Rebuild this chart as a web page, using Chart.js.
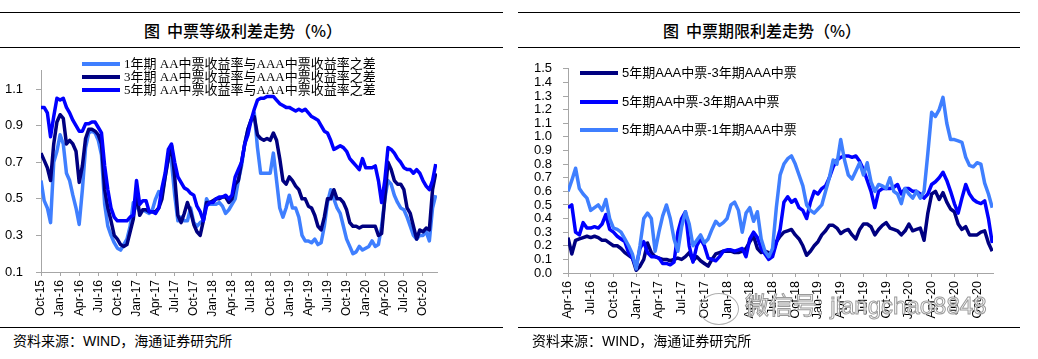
<!DOCTYPE html>
<html><head><meta charset="utf-8">
<script src="https://cdn.jsdelivr.net/npm/chart.js@4.4.1/dist/chart.umd.min.js"></script>
<style>
html,body{margin:0;padding:0;background:#fff;}
#page{position:relative;width:1038px;height:359px;overflow:hidden;background:#fff;font-family:"Liberation Sans",Arial,"Noto Sans CJK SC",sans-serif;}
.rule{position:absolute;height:0;border-top:1.5px solid #000;}
.title{position:absolute;top:19px;height:22px;line-height:22px;text-align:center;font-family:"Noto Sans CJK SC",sans-serif;font-size:16px;font-weight:500;color:#000;white-space:pre;}
canvas{position:absolute;}
.leg{position:absolute;height:14px;line-height:14px;font-size:13px;color:#000;white-space:pre;display:flex;align-items:center;}
.leg i{display:inline-block;width:38px;height:4px;margin-right:4px;}
.legL{font-family:"Liberation Serif","Noto Sans CJK SC",serif;}
.src{position:absolute;top:333px;font-size:14px;line-height:16px;color:#000;font-family:"Liberation Sans","Noto Sans CJK SC",sans-serif;white-space:pre;}
.wm{position:absolute;left:745px;top:292px;font-size:24px;line-height:28px;color:rgba(255,255,255,0.85);-webkit-text-stroke:1px #9a9a9a;font-family:"Liberation Sans","Noto Sans CJK SC",sans-serif;white-space:pre;}
.wmc{position:absolute;left:699px;top:293px;width:38px;height:30px;border:1px solid #b0b0b0;border-radius:50%;}
</style></head>
<body><div id="page">
<div class="rule" style="left:0;width:503px;top:12px"></div>
<div class="rule" style="left:0;width:503px;top:47px"></div>
<div class="title" style="left:0;width:486px">图  中票等级利差走势（%）</div>
<div class="rule" style="left:518px;width:502px;top:12px"></div>
<div class="rule" style="left:518px;width:502px;top:47px"></div>
<div class="title" style="left:518px;width:488px">图  中票期限利差走势（%）</div>

<canvas id="c1" width="505" height="275" style="left:0;top:50px;width:505px;height:275px"></canvas>
<canvas id="c2" width="500" height="275" style="left:520px;top:50px;width:500px;height:275px"></canvas>

<div class="leg legL" style="left:82px;top:57px"><i style="background:#3F7FFF"></i>1年期 AA中票收益率与AAA中票收益率之差</div>
<div class="leg legL" style="left:82px;top:70px"><i style="background:#000080"></i>3年期 AA中票收益率与AAA中票收益率之差</div>
<div class="leg legL" style="left:82px;top:83px"><i style="background:#0000FF"></i>5年期 AA中票收益率与AAA中票收益率之差</div>

<div class="leg" style="left:580px;top:66px"><i style="background:#000080"></i>5年期AAA中票-3年期AAA中票</div>
<div class="leg" style="left:580px;top:95px"><i style="background:#0000FF"></i>5年期AA中票-3年期AA中票</div>
<div class="leg" style="left:580px;top:123px"><i style="background:#3F7FFF"></i>5年期AAA中票-1年期AAA中票</div>

<div class="rule" style="left:0;width:503px;top:327px;border-top-width:1px"></div>
<div class="rule" style="left:518px;width:502px;top:327px;border-top-width:1px"></div>
<div class="src" style="left:13px">资料来源：WIND，海通证券研究所</div>
<div class="src" style="left:532px">资料来源：WIND，海通证券研究所</div>
<div class="wmc"></div>
<div class="wm">微信号: jiangchao8848</div>
</div>
<script>
// ---- Left chart: grade spreads (x = months since Oct-15, half-month grid) ----
const leftTickLabels = ['Oct-15','Jan-16','Apr-16','Jul-16','Oct-16','Jan-17','Apr-17','Jul-17','Oct-17','Jan-18','Apr-18','Jul-18','Oct-18','Jan-19','Apr-19','Jul-19','Oct-19','Jan-20','Apr-20','Jul-20','Oct-20'];
const leftYTicks = [0.1,0.3,0.5,0.7,0.9,1.1];
const spread1y = [
0.60,0.49,0.45,0.37,0.70,0.76,0.85,0.80,0.64,0.60,
0.52,0.45,0.36,0.55,0.78,0.86,0.87,0.86,0.82,0.74,
0.47,0.35,0.30,0.26,0.23,0.22,0.25,0.28,0.35,0.48,
0.46,0.43,0.44,0.43,0.42,0.44,0.50,0.54,0.52,0.62,
0.73,0.70,0.52,0.38,0.40,0.38,0.38,0.45,0.37,0.35,
0.37,0.38,0.50,0.47,0.47,0.47,0.48,0.46,0.42,0.44,
0.47,0.50,0.60,0.68,0.80,0.88,0.93,0.97,0.78,0.64,
0.64,0.64,0.64,0.75,0.60,0.45,0.40,0.45,0.52,0.45,
0.45,0.40,0.30,0.27,0.27,0.26,0.28,0.25,0.26,0.35,
0.48,0.55,0.50,0.45,0.42,0.35,0.28,0.24,0.20,0.21,
0.24,0.22,0.23,0.24,0.27,0.24,0.25,0.35,0.50,0.60,
0.58,0.52,0.48,0.45,0.44,0.40,0.35,0.30,0.28,0.30,
0.30,0.32,0.27,0.45,0.52];
const spread3y = [
0.75,0.71,0.67,0.60,0.80,0.92,0.96,0.94,0.80,0.82,
0.80,0.76,0.59,0.68,0.83,0.88,0.88,0.87,0.85,0.80,
0.55,0.45,0.38,0.30,0.28,0.25,0.24,0.25,0.32,0.39,
0.54,0.41,0.44,0.44,0.43,0.43,0.43,0.45,0.50,0.62,
0.72,0.79,0.62,0.41,0.37,0.42,0.48,0.43,0.36,0.32,
0.30,0.38,0.48,0.48,0.49,0.50,0.50,0.51,0.51,0.48,
0.50,0.58,0.60,0.70,0.80,0.88,0.93,0.95,0.85,0.83,
0.82,0.83,0.82,0.86,0.82,0.72,0.60,0.58,0.62,0.60,
0.57,0.55,0.50,0.50,0.46,0.45,0.41,0.35,0.33,0.40,
0.50,0.50,0.55,0.50,0.50,0.48,0.44,0.37,0.35,0.35,
0.34,0.35,0.35,0.35,0.35,0.35,0.30,0.31,0.50,0.70,
0.66,0.60,0.58,0.58,0.55,0.45,0.42,0.35,0.28,0.33,
0.32,0.34,0.33,0.55,0.64];
const spread5y = [
1.00,1.00,0.97,0.84,0.95,1.05,1.04,1.05,1.00,0.97,
0.93,0.90,0.87,0.87,0.91,0.91,0.92,0.92,0.89,0.86,
0.68,0.55,0.45,0.40,0.38,0.38,0.38,0.38,0.40,0.41,
0.60,0.47,0.49,0.49,0.43,0.43,0.42,0.45,0.56,0.64,
0.77,0.80,0.70,0.62,0.59,0.56,0.55,0.53,0.52,0.46,
0.43,0.38,0.46,0.48,0.48,0.50,0.51,0.51,0.52,0.50,
0.52,0.62,0.66,0.70,0.80,0.85,0.93,0.99,1.04,1.05,
1.05,1.06,1.06,1.06,1.04,1.02,1.01,1.00,1.00,0.99,
0.98,0.99,0.98,0.99,0.97,0.95,0.94,0.93,0.90,0.87,
0.86,0.82,0.77,0.78,0.79,0.78,0.76,0.72,0.70,0.68,
0.66,0.72,0.67,0.67,0.67,0.68,0.60,0.48,0.60,0.78,
0.77,0.75,0.72,0.70,0.67,0.66,0.66,0.64,0.66,0.64,
0.60,0.57,0.55,0.60,0.69];

// ---- Right chart: term spreads (x = months since Apr-16, half-month grid) ----
const rightTickLabels = ['Apr-16','Jul-16','Oct-16','Jan-17','Apr-17','Jul-17','Oct-17','Jan-18','Apr-18','Jul-18','Oct-18','Jan-19','Apr-19','Jul-19','Oct-19','Jan-20','Apr-20','Jul-20','Oct-20'];
const rightYTicks = [0.0,0.1,0.2,0.3,0.4,0.5,0.6,0.7,0.8,0.9,1.0,1.1,1.2,1.3,1.4,1.5];
const aaa5m3 = [
0.26,0.14,0.24,0.25,0.26,0.27,0.26,0.27,0.26,0.24,
0.24,0.22,0.20,0.20,0.18,0.15,0.13,0.11,0.02,0.05,
0.10,0.22,0.15,0.12,0.11,0.10,0.10,0.09,0.10,0.11,
0.10,0.12,0.15,0.09,0.12,0.09,0.07,0.05,0.10,0.14,
0.15,0.16,0.16,0.16,0.15,0.15,0.16,0.18,0.23,0.27,
0.18,0.15,0.16,0.15,0.14,0.23,0.27,0.30,0.31,0.32,
0.28,0.25,0.20,0.13,0.16,0.20,0.23,0.28,0.31,0.35,
0.35,0.33,0.29,0.31,0.32,0.28,0.25,0.32,0.36,0.36,
0.34,0.28,0.32,0.35,0.37,0.33,0.32,0.31,0.28,0.31,
0.36,0.31,0.32,0.33,0.24,0.44,0.58,0.60,0.54,0.59,
0.52,0.47,0.45,0.36,0.32,0.34,0.28,0.28,0.28,0.30,
0.31,0.22,0.16];
const aa5m3 = [
0.48,0.50,0.30,0.28,0.37,0.33,0.33,0.34,0.33,0.36,
0.43,0.32,0.30,0.27,0.25,0.23,0.15,0.11,0.05,0.18,
0.23,0.15,0.12,0.12,0.11,0.07,0.07,0.06,0.08,0.30,
0.40,0.45,0.20,0.08,0.20,0.25,0.20,0.11,0.10,0.09,
0.12,0.16,0.17,0.17,0.16,0.17,0.18,0.12,0.25,0.30,
0.26,0.18,0.14,0.10,0.12,0.22,0.32,0.52,0.56,0.52,
0.54,0.48,0.46,0.40,0.52,0.60,0.58,0.62,0.64,0.70,
0.78,0.83,0.85,0.86,0.86,0.85,0.86,0.82,0.76,0.68,
0.60,0.48,0.60,0.62,0.62,0.62,0.63,0.65,0.58,0.62,
0.62,0.60,0.60,0.58,0.55,0.58,0.65,0.67,0.70,0.74,
0.68,0.60,0.51,0.44,0.55,0.65,0.58,0.54,0.52,0.51,
0.53,0.40,0.22];
const aaa5m1 = [
0.60,0.68,0.77,0.62,0.58,0.55,0.46,0.48,0.50,0.46,
0.54,0.40,0.33,0.32,0.30,0.25,0.20,0.14,0.03,0.20,
0.40,0.44,0.40,0.16,0.30,0.42,0.50,0.40,0.25,0.16,
0.34,0.45,0.36,0.20,0.24,0.28,0.22,0.25,0.32,0.38,
0.35,0.37,0.40,0.50,0.52,0.46,0.30,0.44,0.48,0.38,
0.45,0.25,0.16,0.12,0.18,0.48,0.72,0.80,0.84,0.86,
0.80,0.72,0.64,0.50,0.46,0.44,0.47,0.50,0.60,0.70,
0.83,0.80,0.98,0.83,0.72,0.69,0.75,0.81,0.72,0.81,
0.67,0.60,0.65,0.64,0.62,0.70,0.60,0.58,0.51,0.62,
0.58,0.55,0.60,0.55,0.60,0.88,1.18,1.15,1.20,1.29,
1.10,0.98,0.98,0.97,0.96,0.85,0.79,0.78,0.81,0.80,
0.66,0.58,0.48];

const GRID_STEP = 0.5;
const pts = vals => vals.map((v, i) => ({x: i * GRID_STEP, y: v}));
const AXIS = '#a6a6a6';
const ds = (label, vals, color, order) => ({label, data: pts(vals), borderColor: color, backgroundColor: color, borderWidth: 3.5, pointRadius: 0, tension: 0, fill: false, order, borderJoinStyle: 'round'});

function makeChart(id, datasets, cfg) {
  return new Chart(document.getElementById(id), {
    type: 'line',
    data: {datasets},
    options: {
      responsive: false, animation: false, devicePixelRatio: 1,
      layout: {padding: cfg.padding},
      plugins: {legend: {display: false}, tooltip: {enabled: false}},
      scales: {
        x: {
          type: 'linear', min: 0, max: cfg.xMax,
          afterBuildTicks: s => { s.ticks = cfg.xLabels.map((_, i) => ({value: i * 3})); },
          afterFit: s => { s.height = cfg.xHeight; },
          ticks: {autoSkip: false, minRotation: 90, maxRotation: 90, padding: 4, color: '#000',
                  font: {family: 'Liberation Sans', size: cfg.xFont},
                  callback: v => cfg.xLabels[Math.round(v / 3)]},
          grid: {drawOnChartArea: false, drawTicks: true, tickLength: 4, color: AXIS},
          border: {color: AXIS, width: 1}
        },
        y: {
          min: cfg.yMin, max: cfg.yMax,
          afterBuildTicks: s => { s.ticks = cfg.yTicks.map(v => ({value: v})); },
          afterFit: s => { s.width = cfg.yWidth; },
          ticks: {autoSkip: false, padding: cfg.yPad, color: '#000', font: {family: 'Liberation Sans', size: cfg.yFont},
                  callback: v => Number(v).toFixed(1)},
          grid: {drawOnChartArea: false, drawTicks: true, tickLength: 5, color: AXIS},
          border: {color: AXIS, width: 1}
        }
      }
    }
  });
}

makeChart('c1', [
  ds('5年期 AA中票收益率与AAA中票收益率之差', spread5y, '#0000FF', 0),
  ds('3年期 AA中票收益率与AAA中票收益率之差', spread3y, '#000080', 1),
  ds('1年期 AA中票收益率与AAA中票收益率之差', spread1y, '#3F7FFF', 2)
], {padding: {top: 6.4, right: 68, left: 0, bottom: 0}, xMax: 62.2, xLabels: leftTickLabels, xHeight: 53, xFont: 12,
    yMin: 0.1, yMax: 1.2, yTicks: leftYTicks, yWidth: 41, yPad: 13, yFont: 13});

makeChart('c2', [
  ds('5年期AAA中票-1年期AAA中票', aaa5m1, '#3F7FFF', 0),
  ds('5年期AA中票-3年期AA中票', aa5m3, '#0000FF', 1),
  ds('5年期AAA中票-3年期AAA中票', aaa5m3, '#000080', 2)
], {padding: {top: 7, right: 27, left: 0, bottom: 0}, xMax: 56.1, xLabels: rightTickLabels, xHeight: 52, xFont: 12.5,
    yMin: 0, yMax: 1.5, yTicks: rightYTicks, yWidth: 48, yPad: 11, yFont: 13});
</script>
</body></html>
